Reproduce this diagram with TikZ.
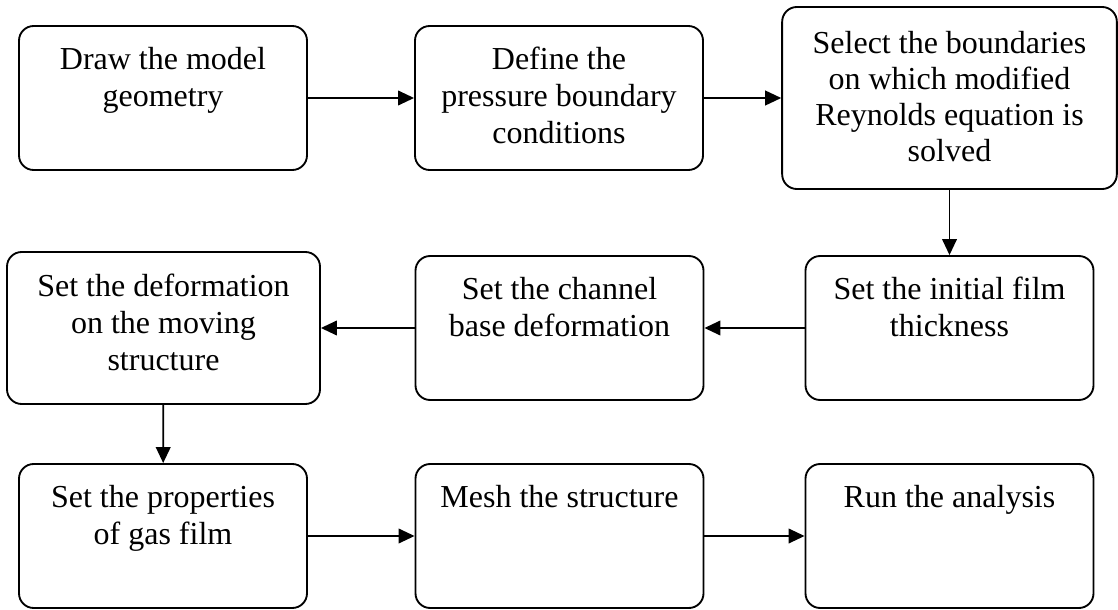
\documentclass[tikz,border=0pt]{standalone}
\usepackage{fontspec}
\setmainfont{Liberation Serif}
\usetikzlibrary{arrows.meta}
\begin{document}
\begin{tikzpicture}[x=0.75pt,y=-0.75pt,
  box/.style={draw=black,line width=1.4pt,rounded corners=11pt,minimum width=216pt,minimum height=108pt,inner sep=0pt},
  txt/.style={anchor=north,inner sep=0pt,align=center,font=\fontsize{24}{27.75}\selectfont},
  arr/.style={line width=1.3pt,-{Triangle[length=12pt,width=11pt]}}]
\useasboundingbox (0,0) rectangle (1118,610);
% boxes
\node[box] (b1) at (163,98) {};
\node[box] (b2) at (559,98) {};
\node[box,minimum width=251pt,minimum height=136.5pt] (b3) at (949.5,98) {};
\node[box,minimum width=234.75pt,minimum height=114pt] (b4) at (163.5,328) {};
\node[box] (b5) at (559.5,328) {};
\node[box] (b6) at (949.5,328) {};
\node[box] (b7) at (163,536) {};
\node[box] (b8) at (559.5,536) {};
\node[box] (b9) at (949.5,536) {};
% texts
\node[txt] (t1) at ([yshift=-13.6pt]b1.north) {\strut Draw the model\\geometry};
\node[txt] (t2) at ([yshift=-13.6pt]b2.north) {\strut Define the\\pressure boundary\\conditions};
\node[txt,font=\fontsize{24}{27}\selectfont] (t3) at ([yshift=-16.6pt]b3.north) {\strut Select the boundaries\\on which modified\\Reynolds equation is\\solved};
\node[txt] (t4) at ([yshift=-14.3pt]b4.north) {\strut Set the deformation\\on the moving\\structure};
\node[txt] (t5) at ([yshift=-13.6pt]b5.north) {\strut Set the channel\\base deformation};
\node[txt] (t6) at ([yshift=-13.6pt]b6.north) {\strut Set the initial film\\thickness};
\node[txt] (t7) at ([yshift=-13.6pt]b7.north) {\strut Set the properties\\of gas film};
\node[txt] (t8) at ([yshift=-13.6pt]b8.north) {\strut Mesh the structure};
\node[txt] (t9) at ([yshift=-13.6pt]b9.north) {\strut Run the analysis};
% connectors
\draw[arr] (b1) -- (b2);
\draw[arr] (b2) -- (b3);
\draw[arr] (b3) -- (b6);
\draw[arr] (b6) -- (b5);
\draw[arr] (b5) -- (b4);
\draw[arr] (b4) -- (b7);
\draw[arr] (b7) -- (b8);
\draw[arr] (b8) -- (b9);
\end{tikzpicture}
\end{document}
